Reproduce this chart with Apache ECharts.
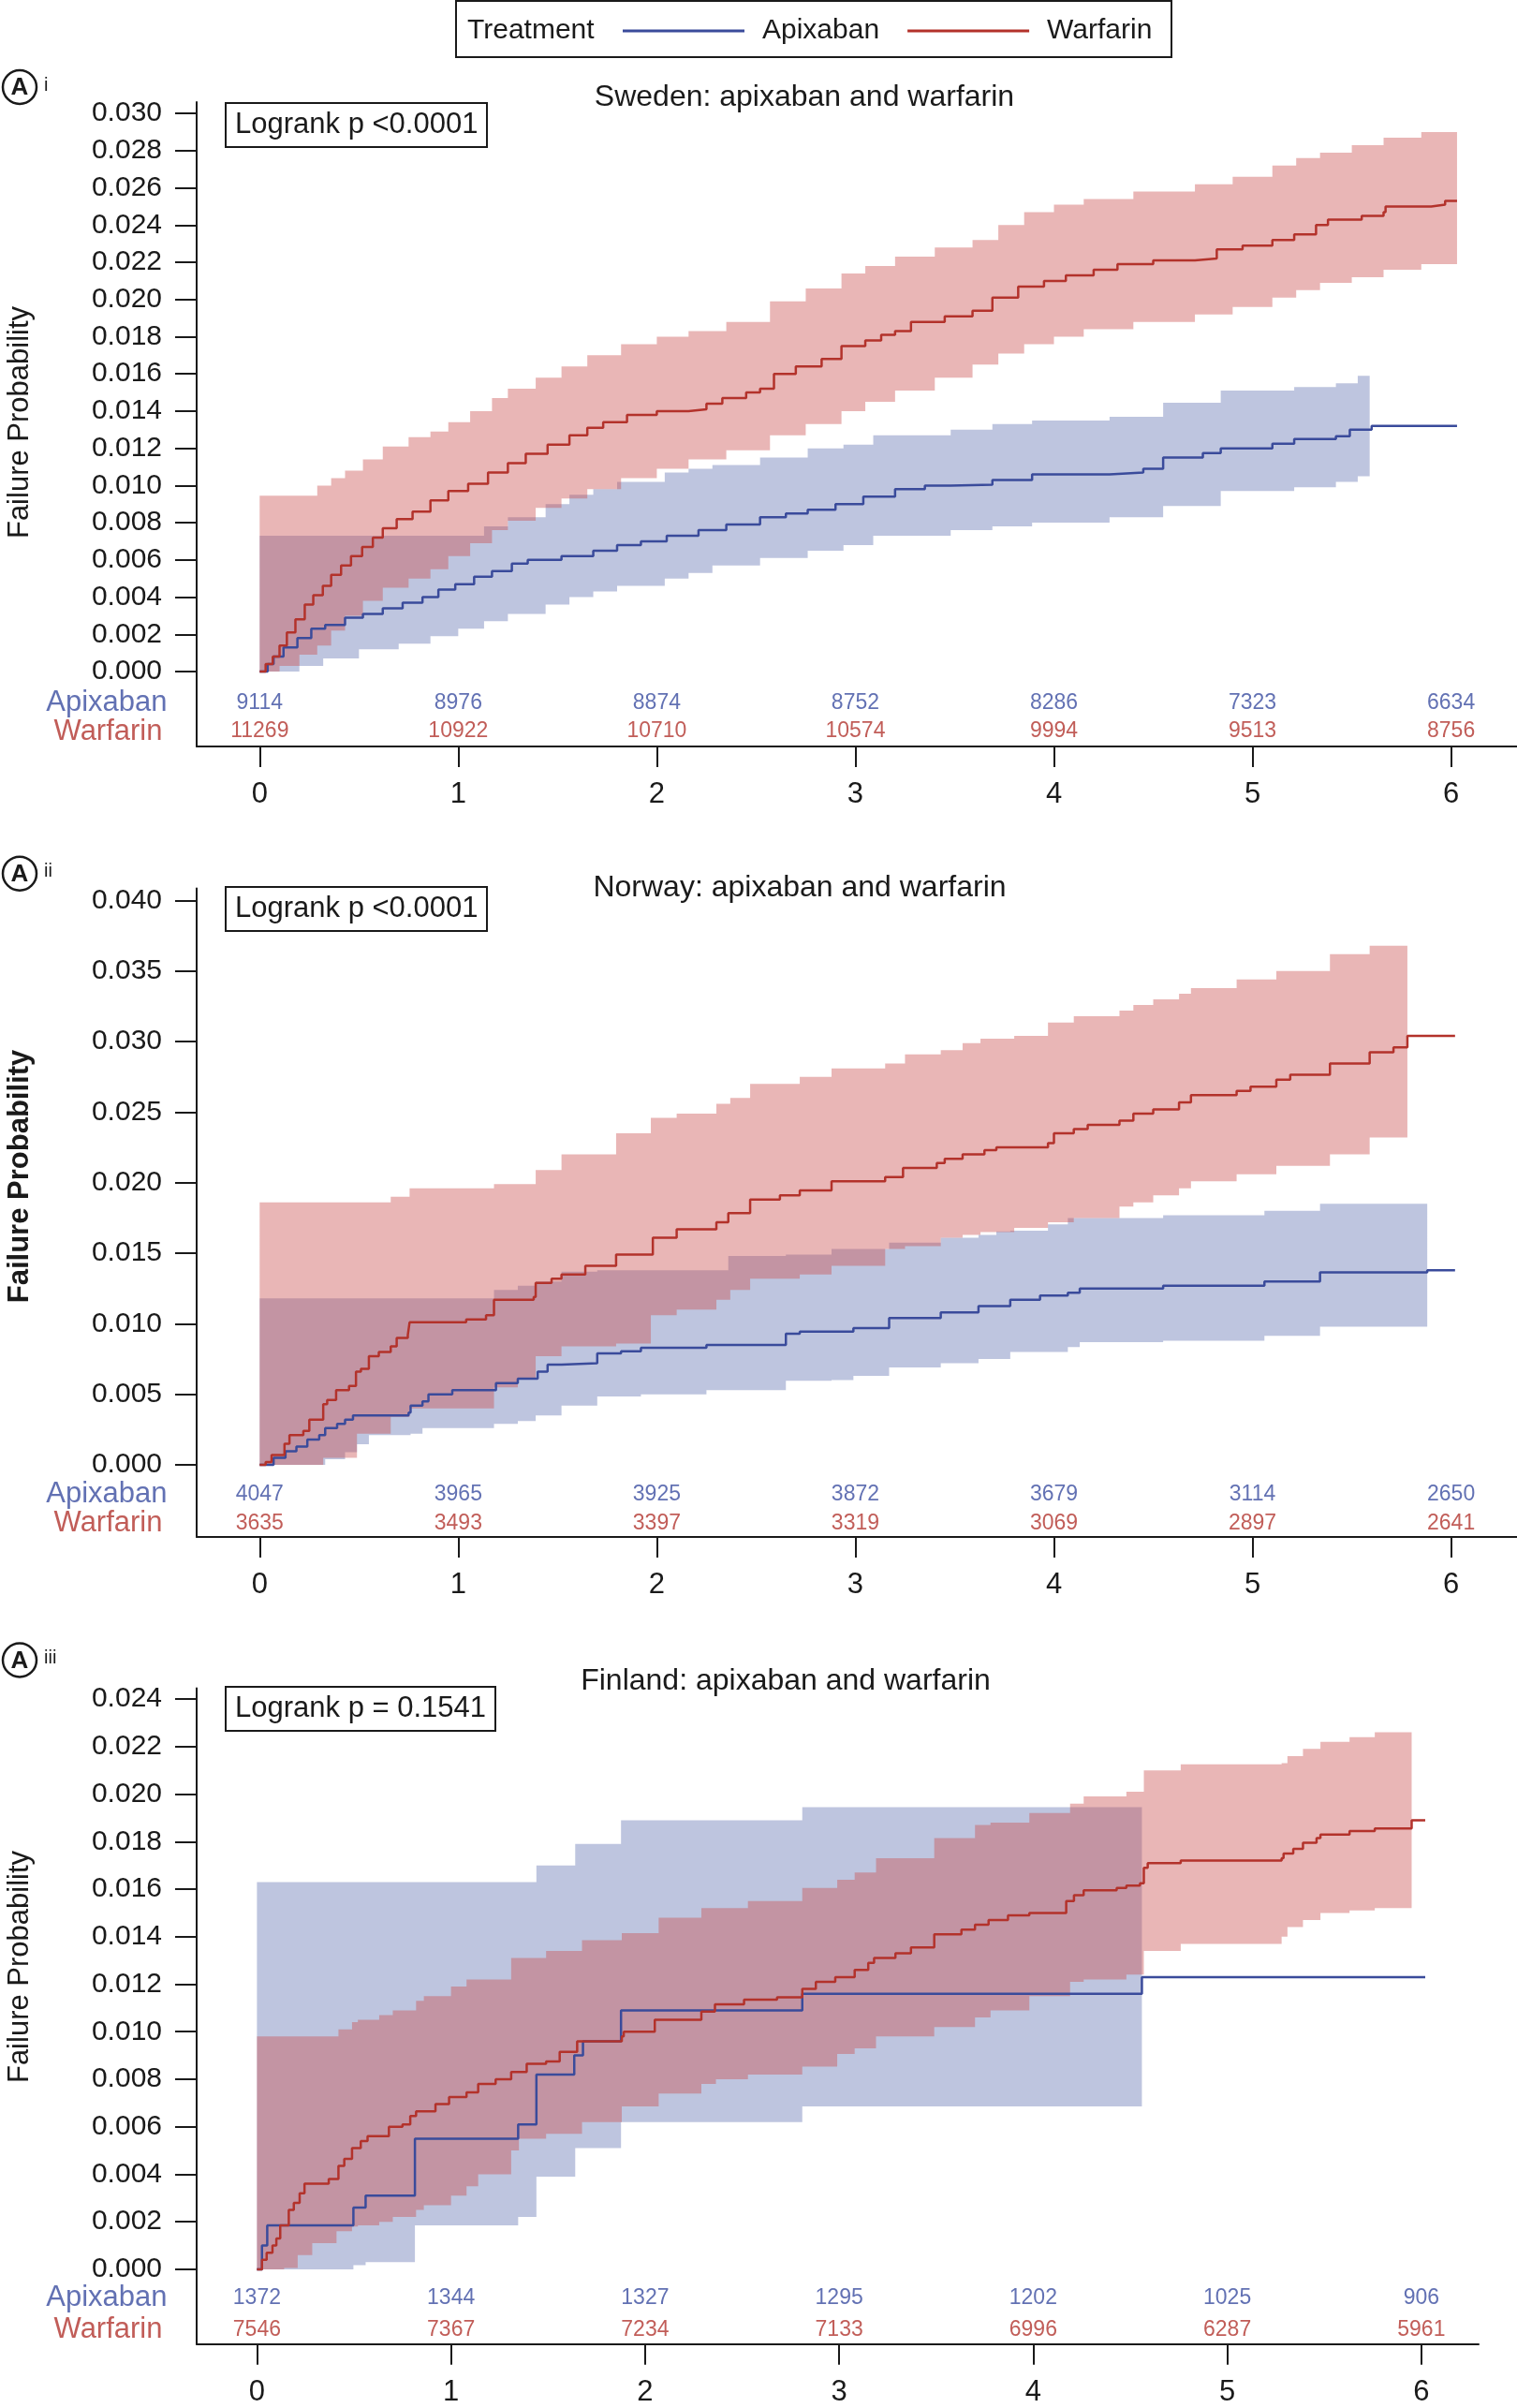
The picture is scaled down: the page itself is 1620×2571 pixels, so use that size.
<!DOCTYPE html>
<html>
<head>
<meta charset="utf-8">
<title>Failure probability: apixaban and warfarin</title>
<script src="https://cdn.jsdelivr.net/npm/echarts@6/dist/echarts.min.js"></script>
<style>
html, body { margin: 0; padding: 0; background: #fff; }
#chart { width: 1620px; height: 2571px; }
</style>
</head>
<body>
<div id="chart"></div>
<script>
// ---- ticks
var xTicks = [0, 1, 2, 3, 4, 5, 6];
var swedenYTicks = [0, 0.002, 0.004, 0.006, 0.008, 0.010, 0.012, 0.014, 0.016, 0.018, 0.020, 0.022, 0.024, 0.026, 0.028, 0.030];
var norwayYTicks = [0, 0.005, 0.010, 0.015, 0.020, 0.025, 0.030, 0.035, 0.040];
var finlandYTicks = [0, 0.002, 0.004, 0.006, 0.008, 0.010, 0.012, 0.014, 0.016, 0.018, 0.020, 0.022, 0.024];
var rowNames = ['Apixaban', 'Warfarin'];

// ---- Sweden: [years, failure probability] and CI as [years, lower, upper]
var swedenApixaban = [[0,0],[0.04,0.0004],[0.07,0.0008],[0.12,0.0013],[0.19,0.0018],[0.26,0.0023],[0.33,0.0025],[0.43,0.0029],[0.52,0.0031],[0.62,0.0034],[0.72,0.0037],[0.82,0.0040],[0.9,0.0044],[0.985,0.0047],[1.08,0.0051],[1.17,0.0054],[1.27,0.0058],[1.35,0.0060],[1.52,0.0062],[1.68,0.0065],[1.8,0.0068],[1.92,0.0070],[2.05,0.0073],[2.21,0.0076],[2.35,0.0079],[2.52,0.0083],[2.65,0.0085],[2.76,0.0087],[2.9,0.0090],[3.04,0.0094],[3.2,0.0098],[3.35,0.0100],[3.48,0.01005],[3.69,0.0103],[3.89,0.0106],[4.28,0.0107],[4.45,0.0109],[4.55,0.0115],[4.75,0.01175],[4.84,0.0120],[5.1,0.01225],[5.21,0.0125],[5.42,0.01265],[5.49,0.0130],[5.6,0.0132],[6.03,0.0132]];
var swedenApixabanCI = [[0,0,0.0073],[0.2,0.0003,0.0073],[0.32,0.0007,0.0073],[0.5,0.0012,0.0073],[0.7,0.0015,0.0073],[0.86,0.0019,0.0073],[1.0,0.0023,0.0073],[1.13,0.0027,0.0078],[1.25,0.0031,0.0083],[1.44,0.0036,0.0090],[1.56,0.0040,0.0095],[1.68,0.0043,0.0098],[1.8,0.0046,0.0102],[2.04,0.0050,0.0107],[2.16,0.0053,0.0109],[2.28,0.0057,0.0111],[2.52,0.0061,0.0115],[2.76,0.0065,0.0120],[2.94,0.0068,0.0122],[3.09,0.0073,0.0127],[3.48,0.0076,0.0130],[3.69,0.0078,0.0133],[3.89,0.0080,0.0135],[4.28,0.0083,0.0137],[4.55,0.0089,0.01445],[4.84,0.0097,0.0151],[5.21,0.0099,0.0153],[5.42,0.0102,0.0155],[5.53,0.0105,0.0159],[5.59,0.0107,0.0160]];
var swedenWarfarin = [[0,0],[0.03,0.0004],[0.066,0.0008],[0.1,0.0014],[0.137,0.0021],[0.18,0.0028],[0.227,0.0036],[0.27,0.0041],[0.318,0.0046],[0.36,0.0052],[0.41,0.0057],[0.46,0.0062],[0.516,0.0067],[0.57,0.0072],[0.62,0.0077],[0.69,0.0082],[0.77,0.0086],[0.86,0.0092],[0.95,0.0097],[1.05,0.0101],[1.15,0.0107],[1.25,0.0112],[1.34,0.0117],[1.45,0.0122],[1.56,0.0127],[1.65,0.0131],[1.73,0.0134],[1.85,0.0138],[2.0,0.0140],[2.16,0.0141],[2.25,0.0144],[2.33,0.0147],[2.45,0.0150],[2.52,0.0152],[2.59,0.0160],[2.7,0.0164],[2.83,0.0168],[2.93,0.0175],[3.05,0.0178],[3.13,0.0181],[3.2,0.0183],[3.28,0.0188],[3.45,0.0191],[3.59,0.0194],[3.69,0.0201],[3.82,0.0207],[3.95,0.0210],[4.06,0.0213],[4.2,0.0216],[4.32,0.0219],[4.5,0.0221],[4.71,0.0222],[4.82,0.0227],[4.95,0.0229],[5.1,0.0232],[5.21,0.0235],[5.32,0.0240],[5.38,0.0243],[5.55,0.0245],[5.66,0.0247],[5.67,0.0250],[5.9,0.0251],[5.97,0.0253],[6.03,0.0253]];
var swedenWarfarinCI = [[0,0,0.00945],[0.1,0.0003,0.00945],[0.2,0.0009,0.00945],[0.29,0.0014,0.0100],[0.36,0.0022,0.0104],[0.43,0.0030,0.0108],[0.52,0.0038,0.0114],[0.62,0.0045,0.0121],[0.75,0.0050,0.0126],[0.86,0.0055,0.0129],[0.95,0.0062,0.0134],[1.06,0.0069,0.0140],[1.17,0.0076,0.0147],[1.25,0.0081,0.0152],[1.39,0.0088,0.0158],[1.52,0.0093,0.0164],[1.65,0.0098,0.0170],[1.82,0.0104,0.0176],[2.0,0.0109,0.0180],[2.16,0.0114,0.0183],[2.35,0.0119,0.0188],[2.57,0.0127,0.0199],[2.75,0.0133,0.0206],[2.93,0.0140,0.0214],[3.05,0.0145,0.0218],[3.2,0.0151,0.0223],[3.4,0.0158,0.0228],[3.59,0.0165,0.0232],[3.72,0.0171,0.0240],[3.85,0.0176,0.0247],[4.0,0.0180,0.0251],[4.15,0.0184,0.0254],[4.4,0.0188,0.0258],[4.71,0.0192,0.0262],[4.9,0.0196,0.0266],[5.1,0.0201,0.0272],[5.22,0.0205,0.0276],[5.34,0.0209,0.0279],[5.5,0.0212,0.0283],[5.66,0.0216,0.0287],[5.85,0.0219,0.0290],[6.03,0.0221,0.0291]];
var swedenAtRiskApixaban = [9114, 8976, 8874, 8752, 8286, 7323, 6634];
var swedenAtRiskWarfarin = [11269, 10922, 10710, 10574, 9994, 9513, 8756];

// ---- Norway
var norwayApixaban = [[0,0],[0.07,0.0005],[0.13,0.00096],[0.185,0.0013],[0.24,0.0018],[0.30,0.0021],[0.33,0.0026],[0.39,0.0029],[0.43,0.0032],[0.47,0.0035],[0.75,0.0037],[0.76,0.0042],[0.82,0.0045],[0.85,0.0050],[0.97,0.0053],[1.19,0.0058],[1.30,0.0061],[1.40,0.0066],[1.45,0.0071],[1.52,0.0072],[1.70,0.0079],[1.82,0.00805],[1.92,0.0083],[2.25,0.0085],[2.65,0.0093],[2.72,0.00945],[2.99,0.0097],[3.17,0.0104],[3.43,0.0108],[3.62,0.01125],[3.78,0.0117],[3.93,0.0120],[4.07,0.0122],[4.13,0.0125],[4.55,0.0127],[5.06,0.0130],[5.34,0.01365],[5.88,0.0138],[6.02,0.0138]];
var norwayApixabanCI = [[0,0,0.0118],[0.33,0.0004,0.0118],[0.43,0.0009,0.0118],[0.49,0.00146,0.0118],[0.55,0.0021,0.0118],[0.76,0.0022,0.0118],[0.82,0.0026,0.0118],[1.18,0.0029,0.0124],[1.30,0.0031,0.0127],[1.39,0.0035,0.0130],[1.52,0.0042,0.0137],[1.70,0.00485,0.0138],[1.92,0.0050,0.0138],[2.25,0.0053,0.0138],[2.36,0.0053,0.0148],[2.65,0.00595,0.0149],[2.88,0.0060,0.0153],[2.99,0.0063,0.0153],[3.17,0.0069,0.01575],[3.43,0.0072,0.0161],[3.62,0.0075,0.0163],[3.71,0.0075,0.01655],[3.78,0.0080,0.0166],[3.97,0.0080,0.01705],[4.07,0.00835,0.0175],[4.13,0.0087,0.0175],[4.55,0.0088,0.0177],[5.06,0.00915,0.0180],[5.34,0.0098,0.0185],[5.88,0.0098,0.0185]];
var norwayWarfarin = [[0,0],[0.03,0.0002],[0.06,0.0007],[0.125,0.0015],[0.15,0.0021],[0.22,0.0024],[0.25,0.0032],[0.32,0.0043],[0.34,0.0046],[0.385,0.0053],[0.45,0.0056],[0.485,0.0066],[0.51,0.0068],[0.55,0.0077],[0.6,0.0080],[0.66,0.0084],[0.69,0.0090],[0.746,0.0092],[0.755,0.0101],[1.04,0.0103],[1.14,0.0106],[1.18,0.0117],[1.38,0.0119],[1.39,0.0129],[1.47,0.0132],[1.52,0.0135],[1.64,0.0141],[1.795,0.0149],[1.98,0.0161],[2.10,0.0167],[2.30,0.0172],[2.36,0.01785],[2.47,0.0188],[2.62,0.0191],[2.72,0.01945],[2.88,0.0201],[3.15,0.0204],[3.24,0.02105],[3.41,0.0214],[3.45,0.0217],[3.54,0.0220],[3.65,0.0223],[3.71,0.0225],[3.97,0.0228],[4.0,0.0235],[4.1,0.0238],[4.17,0.0241],[4.33,0.0244],[4.40,0.0249],[4.50,0.0252],[4.63,0.0257],[4.69,0.0262],[4.92,0.0265],[4.99,0.0268],[5.12,0.0273],[5.19,0.02765],[5.39,0.02845],[5.59,0.02925],[5.71,0.0296],[5.78,0.0304],[6.02,0.0304]];
var norwayWarfarinCI = [[0,0,0.0186],[0.32,0.0005,0.0186],[0.49,0.0022,0.0186],[0.66,0.0034,0.0190],[0.755,0.0040,0.0196],[1.18,0.0055,0.0199],[1.3,0.0061,0.0199],[1.39,0.0077,0.0209],[1.52,0.0084,0.0220],[1.795,0.0086,0.0235],[1.97,0.0106,0.0246],[2.10,0.0110,0.0249],[2.30,0.0117,0.0256],[2.37,0.0124,0.0260],[2.47,0.0132,0.0270],[2.72,0.0135,0.0275],[2.88,0.0141,0.0281],[3.15,0.0153,0.02845],[3.25,0.0155,0.0291],[3.43,0.0161,0.0294],[3.54,0.0163,0.0299],[3.63,0.0165,0.0302],[3.8,0.0168,0.0304],[3.97,0.0172,0.03135],[4.1,0.0175,0.0318],[4.33,0.0183,0.0322],[4.40,0.0186,0.0326],[4.50,0.0191,0.0330],[4.63,0.0196,0.0334],[4.69,0.0201,0.0338],[4.92,0.0206,0.0344],[5.12,0.0212,0.0350],[5.39,0.0220,0.0362],[5.59,0.0232,0.0368],[5.78,0.0236,0.0373]];
var norwayAtRiskApixaban = [4047, 3965, 3925, 3872, 3679, 3114, 2650];
var norwayAtRiskWarfarin = [3635, 3493, 3397, 3319, 3069, 2897, 2641];

// ---- Finland
var finlandApixaban = [[0,0],[0.026,0.0010],[0.053,0.00185],[0.497,0.0026],[0.56,0.0031],[0.814,0.0055],[1.346,0.0061],[1.44,0.0082],[1.635,0.0090],[1.68,0.0096],[1.876,0.0109],[2.81,0.0116],[4.56,0.0123],[6.02,0.0123]];
var finlandApixabanCI = [[0,0,0.0163],[0.497,0.00017,0.0163],[0.56,0.0003,0.0163],[0.814,0.00185,0.0163],[1.346,0.0022,0.0163],[1.44,0.0039,0.0170],[1.64,0.0051,0.0179],[1.876,0.0062,0.0189],[2.81,0.00686,0.01945],[4.56,0.00686,0.01945]];
var finlandWarfarin = [[0,0],[0.026,0.0004],[0.05,0.0007],[0.08,0.0010],[0.1,0.0013],[0.12,0.00185],[0.164,0.0025],[0.19,0.0028],[0.22,0.0032],[0.245,0.0036],[0.37,0.0038],[0.42,0.00435],[0.45,0.00465],[0.49,0.0051],[0.535,0.0054],[0.57,0.0056],[0.68,0.0060],[0.75,0.0061],[0.79,0.00645],[0.82,0.00665],[0.92,0.00695],[0.99,0.00725],[1.08,0.00745],[1.14,0.0078],[1.23,0.0080],[1.31,0.0083],[1.39,0.00865],[1.49,0.00875],[1.56,0.00915],[1.65,0.0096],[1.88,0.0098],[1.89,0.0100],[2.05,0.0105],[2.29,0.01085],[2.36,0.01115],[2.51,0.01135],[2.68,0.01145],[2.81,0.0118],[2.88,0.0121],[2.98,0.0123],[3.08,0.0126],[3.15,0.0129],[3.18,0.0131],[3.29,0.0133],[3.37,0.01355],[3.49,0.0141],[3.63,0.0143],[3.70,0.0145],[3.77,0.0147],[3.87,0.0149],[3.98,0.0150],[4.17,0.0155],[4.21,0.01575],[4.26,0.01595],[4.43,0.01605],[4.48,0.01615],[4.55,0.01625],[4.57,0.0169],[4.59,0.0171],[4.76,0.0172],[5.28,0.0173],[5.29,0.0175],[5.34,0.0177],[5.39,0.01795],[5.46,0.01815],[5.48,0.0183],[5.63,0.01845],[5.76,0.01855],[5.95,0.0189],[6.02,0.0189]];
var finlandWarfarinCI = [[0,0,0.0098],[0.14,0.00006,0.0098],[0.21,0.0006,0.0098],[0.285,0.0011,0.0098],[0.41,0.0016,0.0098],[0.42,0.0016,0.0101],[0.49,0.0018,0.0104],[0.52,0.00185,0.0105],[0.63,0.0020,0.0107],[0.70,0.0022,0.0109],[0.82,0.0025,0.0113],[0.86,0.0027,0.0115],[1.0,0.0031,0.0119],[1.08,0.0035,0.0122],[1.14,0.0040,0.0122],[1.31,0.0050,0.0131],[1.35,0.0055,0.0131],[1.49,0.0057,0.0134],[1.675,0.0062,0.01385],[1.88,0.00686,0.01415],[2.07,0.0074,0.0148],[2.29,0.0078,0.0152],[2.365,0.0080,0.0152],[2.53,0.0082,0.0155],[2.81,0.00853,0.01605],[2.99,0.00906,0.0164],[3.08,0.0093,0.0167],[3.19,0.0098,0.0173],[3.49,0.0102,0.01815],[3.70,0.0106,0.0187],[3.78,0.0109,0.0188],[3.98,0.0115,0.0192],[4.19,0.0121,0.0196],[4.26,0.0122,0.0199],[4.48,0.0124,0.0201],[4.57,0.0134,0.0210],[4.76,0.0137,0.02125],[5.28,0.0140,0.0213],[5.31,0.0144,0.0216],[5.39,0.0147,0.0219],[5.48,0.0150,0.0222],[5.63,0.0151,0.0224],[5.76,0.0152,0.0226],[5.95,0.0153,0.0226]];
var finlandAtRiskApixaban = [1372, 1344, 1327, 1295, 1202, 1025, 906];
var finlandAtRiskWarfarin = [7546, 7367, 7234, 7133, 6996, 6287, 5961];

// ---- styles
var FONT = '"Liberation Sans", Arial, Helvetica, sans-serif';
var INK = '#1a1a1a';
var BLUE = '#3a4b9b', RED = '#b3322b';
var BLUE_TXT = '#3b4da0', RED_TXT = '#b2352e';
var BLUE_BAND = 'rgba(60,80,160,0.335)', RED_BAND = 'rgba(203,81,81,0.42)';

var panels = [
	{ title: 'Sweden: apixaban and warfarin', titleX: 859, titleY: 104, logrank: 'Logrank p <0.0001', boxTop: 110,
	  grid: { left: 210, top: 109, width: 1410, height: 688 }, xMin: -0.3174, xMax: 6.332, yMin: -0.00403, yMax: 0.030615,
	  yTicks: swedenYTicks, rows: [-0.001688, -0.003224], yName: 451, yBold: false, badgeY: 93, roman: 'i',
	  apx: swedenApixaban, apxCI: swedenApixabanCI, war: swedenWarfarin, warCI: swedenWarfarinCI,
	  riskApx: swedenAtRiskApixaban, riskWar: swedenAtRiskWarfarin },
	{ title: 'Norway: apixaban and warfarin', titleX: 854, titleY: 948, logrank: 'Logrank p <0.0001', boxTop: 947,
	  grid: { left: 210, top: 948.5, width: 1410, height: 692.5 }, xMin: -0.3174, xMax: 6.332, yMin: -0.005113, yMax: 0.040863,
	  yTicks: norwayYTicks, rows: [-0.00209, -0.00418], yName: 1256, yBold: true, badgeY: 932.7, roman: 'ii',
	  apx: norwayApixaban, apxCI: norwayApixabanCI, war: norwayWarfarin, warCI: norwayWarfarinCI,
	  riskApx: norwayAtRiskApixaban, riskWar: norwayAtRiskWarfarin },
	{ title: 'Finland: apixaban and warfarin', titleX: 839, titleY: 1795, logrank: 'Logrank p = 0.1541', boxTop: 1801,
	  grid: { left: 210, top: 1802.5, width: 1369, height: 700.3 }, xMin: -0.3107, xMax: 6.295, yMin: -0.003149, yMax: 0.024457,
	  yTicks: finlandYTicks, rows: [-0.001206, -0.002546], yName: 2100, yBold: false, badgeY: 1772.5, roman: 'iii',
	  apx: finlandApixaban, apxCI: finlandApixabanCI, war: finlandWarfarin, warCI: finlandWarfarinCI,
	  riskApx: finlandAtRiskApixaban, riskWar: finlandAtRiskWarfarin }
];

// confidence band: one stepped polygon (upper edge forward, lower edge back)
function bandSeries(ci, idx, color) {
	return { type: 'custom', xAxisIndex: idx, yAxisIndex: idx, silent: true, z: 1, data: ci,
		encode: { x: 0, y: [1, 2] },
		renderItem: function (params, api) {
			if (params.dataIndex !== 0) return;
			var pts = [], n = ci.length, i;
			for (i = 0; i < n - 1; i++) {
				pts.push(api.coord([ci[i][0], ci[i][2]]));
				pts.push(api.coord([ci[i + 1][0], ci[i][2]]));
			}
			pts.push(api.coord([ci[n - 1][0], ci[n - 1][2]]));
			pts.push(api.coord([ci[n - 1][0], ci[n - 1][1]]));
			for (i = n - 2; i >= 0; i--) {
				pts.push(api.coord([ci[i + 1][0], ci[i][1]]));
				pts.push(api.coord([ci[i][0], ci[i][1]]));
			}
			return { type: 'polygon', shape: { points: pts }, style: { fill: color } };
		} };
}

function kmSeries(name, data, idx, color) {
	return { name: name, type: 'line', xAxisIndex: idx, yAxisIndex: idx, step: 'end', data: data, showSymbol: false, z: 3,
		color: color, itemStyle: { color: color }, lineStyle: { color: color, width: 2.5 } };
}

// numbers at risk under each year tick, plus the row name at the left edge
function riskSeries(counts, row, y, xMin, idx, color, gap) {
	var data = xTicks.map(function (x, k) { return [x, y, counts[k]]; });
	data.push({ value: [xMin, y, row], label: { position: 'left', distance: gap, fontSize: 31 } });
	return { type: 'scatter', xAxisIndex: idx, yAxisIndex: idx, silent: true, clip: false, symbolSize: 1, z: 4,
		itemStyle: { color: 'rgba(0,0,0,0)' },
		data: data,
		label: { show: true, position: 'inside', formatter: function (p) { return String(p.value[2]); }, fontSize: 23, color: color, fontFamily: FONT } };
}

var grids = [], xAxes = [], yAxes = [], series = [], titles = [], graphics = [];

panels.forEach(function (p, i) {
	grids.push(p.grid);
	xAxes.push({ gridIndex: i, type: 'value', min: p.xMin, max: p.xMax,
		axisLine: { show: true, onZero: false, lineStyle: { color: INK, width: 2 } },
		axisTick: { show: true, length: 22, customValues: xTicks, lineStyle: { color: INK, width: 2 } },
		axisLabel: { customValues: xTicks, fontSize: 31, margin: 36, color: INK, fontFamily: FONT },
		splitLine: { show: false } });
	yAxes.push({ gridIndex: i, type: 'value', min: p.yMin, max: p.yMax,
		axisLine: { show: true, onZero: false, lineStyle: { color: INK, width: 2 } },
		axisTick: { show: true, length: 23, customValues: p.yTicks, lineStyle: { color: INK, width: 2 } },
		axisLabel: { customValues: p.yTicks, fontSize: 30, margin: 37, color: INK, fontFamily: FONT,
			formatter: function (v) { return v.toFixed(3); } },
		splitLine: { show: false } });

	series.push(bandSeries(p.apxCI, i, BLUE_BAND));
	series.push(bandSeries(p.warCI, i, RED_BAND));
	series.push(kmSeries('Apixaban', p.apx, i, BLUE));
	series.push(kmSeries('Warfarin', p.war, i, RED));
	series.push(riskSeries(p.riskApx, rowNames[0], p.rows[0], p.xMin, i, BLUE_TXT, 31));
	series.push(riskSeries(p.riskWar, rowNames[1], p.rows[1], p.xMin, i, RED_TXT, 36));

	titles.push({ text: p.logrank, left: 241, top: p.boxTop, padding: [7, 10], borderColor: INK, borderWidth: 2,
		textStyle: { fontSize: 31, fontWeight: 'normal', color: INK, lineHeight: 33, fontFamily: FONT } });

	graphics.push({ type: 'text', x: p.titleX, y: p.titleY,
		style: { text: p.title, fill: INK, fontSize: 32, fontFamily: FONT, align: 'center', verticalAlign: 'middle' } });
	graphics.push({ type: 'text', x: 21, y: p.yName, rotation: Math.PI / 2,
		style: { text: 'Failure Probability', fill: INK, fontSize: 31, fontWeight: p.yBold ? 'bold' : 'normal', fontFamily: FONT, align: 'center', verticalAlign: 'middle' } });
	// panel badge "(A) i"
	graphics.push({ type: 'circle', shape: { cx: 21, cy: p.badgeY, r: 18 }, style: { fill: '#fff', stroke: INK, lineWidth: 2.5 } });
	graphics.push({ type: 'text', x: 21, y: p.badgeY + 1,
		style: { text: 'A', fill: INK, fontSize: 26, fontWeight: 'bold', fontFamily: FONT, align: 'center', verticalAlign: 'middle' } });
	graphics.push({ type: 'text', x: 47, y: p.badgeY - 2,
		style: { text: p.roman, fill: INK, fontSize: 20, fontFamily: FONT, align: 'left', verticalAlign: 'middle' } });
});

// legend frame and "Treatment" caption
graphics.push({ type: 'rect', shape: { x: 487, y: 1, width: 764, height: 60 }, style: { fill: 'none', stroke: INK, lineWidth: 2 }, z: 10 });
graphics.push({ type: 'text', x: 499, y: 32.5, style: { text: 'Treatment', fill: INK, fontSize: 30, fontFamily: FONT, align: 'left', verticalAlign: 'middle' }, z: 10 });

var myChart = echarts.init(document.getElementById('chart'), null, { renderer: 'canvas' });
myChart.setOption({
	animation: false,
	backgroundColor: '#fff',
	textStyle: { fontFamily: FONT },
	title: titles,
	legend: { data: ['Apixaban', 'Warfarin'], left: 660, top: 11, icon: 'rect', itemWidth: 130, itemHeight: 3, itemGap: 30,
		selectedMode: false, textStyle: { fontSize: 30, color: INK, lineHeight: 34, fontFamily: FONT, padding: [0, 0, 0, 14] } },
	grid: grids,
	xAxis: xAxes,
	yAxis: yAxes,
	series: series,
	graphic: graphics
});
</script>
</body>
</html>
